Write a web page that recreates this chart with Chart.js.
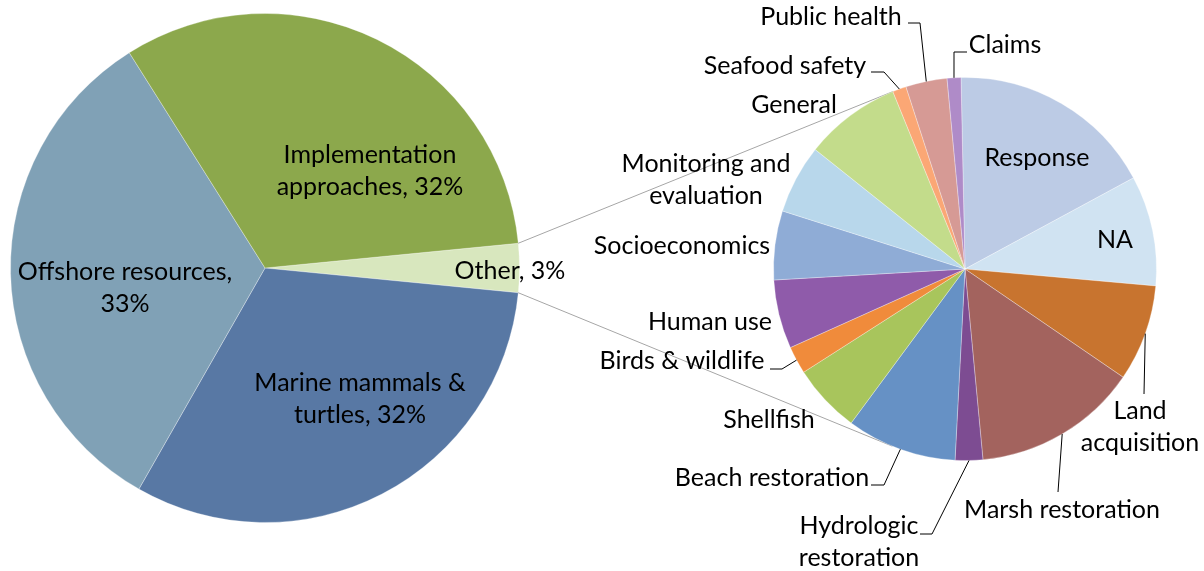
<!DOCTYPE html>
<html>
<head>
<meta charset="utf-8">
<script src="https://cdn.jsdelivr.net/npm/chart.js@4.4.1/dist/chart.umd.min.js"></script>
<style>
  html, body { margin: 0; padding: 0; background: #fff; }
  #wrap { position: relative; width: 1204px; height: 571px; overflow: hidden; }
  #wrap canvas { position: absolute; left: 0; top: 0; }
</style>
</head>
<body>
<div id="wrap">
  <canvas id="mainPie" width="1204" height="571"></canvas>
  <canvas id="otherPie" width="1204" height="571"></canvas>
</div>
<script>
// main pie (percent of all items) - "Other" first so it sits on the right side
const mainLabels = ["Other", "Marine mammals & turtles", "Offshore resources", "Implementation approaches"];
const mainValues = [3.1, 31.7, 32.8, 32.4];
const mainColors = ["#D8E7BE", "#5878A4", "#80A1B6", "#8CA84C"];

// breakdown of "Other" (item counts), clockwise from the top
const otherLabels = [
  "Response", "NA", "Land acquisition", "Marsh restoration", "Hydrologic restoration",
  "Beach restoration", "Shellfish", "Birds & wildlife", "Human use", "Socioeconomics",
  "Monitoring and evaluation", "General", "Seafood safety", "Public health", "Claims"
];
const otherValues = [15, 8, 7, 12, 2, 8, 5, 2, 5, 5, 5, 7, 1, 3, 1];
const otherColors = [
  "#BCCBE5", "#D0E3F2", "#C8742F", "#A3635E", "#7D4C92",
  "#6691C5", "#A8C55C", "#F08B3B", "#8F5BAA", "#8FACD6",
  "#B8D7EB", "#C3DC8B", "#FBA775", "#D69A95", "#AF8BC8"
];

const FONT_SIZE = 25;
const FONT = FONT_SIZE + "px Lato, 'Open Sans', sans-serif";
const LINE_H = 32;

// where each label text block goes (centre) and how wide it may get before wrapping
const mainLabelPos = [
  { x: 510, y: 271, w: 300 },
  { x: 360, y: 399, w: 230 },
  { x: 125, y: 288, w: 230 },
  { x: 370, y: 171, w: 190 }
];
const otherLabelPos = [
  { x: 1037, y: 158, w: 300 },
  { x: 1115, y: 240, w: 300 },
  { x: 1140, y: 427, w: 120, knee: [1144, 394] },
  { x: 1062, y: 510, w: 300, knee: [1058, 492] },
  { x: 859, y: 542, w: 130, knee: [932, 534], end: [920, 534] },
  { x: 772, y: 478, w: 300, knee: [884, 485], end: [871, 485] },
  { x: 769, y: 420, w: 300 },
  { x: 682, y: 361, w: 300, knee: [782, 369], end: [770, 369] },
  { x: 710, y: 322, w: 300 },
  { x: 682, y: 246, w: 300 },
  { x: 706, y: 180, w: 180 },
  { x: 794, y: 105, w: 300 },
  { x: 785, y: 66, w: 300, knee: [884, 72], end: [871, 72] },
  { x: 831, y: 17, w: 300, knee: [920, 23], end: [908, 23] },
  { x: 1005, y: 45, w: 300, knee: [954, 52], end: [967, 52] }
];

function wrapText(ctx, text, maxW) {
  const words = text.split(" ");
  const lines = [];
  let cur = "";
  words.forEach(w => {
    const test = cur ? cur + " " + w : w;
    if (cur && ctx.measureText(test).width > maxW) {
      lines.push(cur);
      cur = w;
    } else {
      cur = test;
    }
  });
  if (cur) lines.push(cur);
  return lines;
}

// draws slice labels, plus leader lines where a knee is given
const sliceLabels = {
  id: "sliceLabels",
  afterDatasetsDraw(chart, args, opts) {
    const ctx = chart.ctx;
    const arcs = chart.getDatasetMeta(0).data;
    ctx.save();
    ctx.font = FONT;
    ctx.fillStyle = "#000";
    ctx.textAlign = "center";
    ctx.textBaseline = "middle";
    opts.texts.forEach((txt, i) => {
      const p = opts.pos[i];
      const lines = wrapText(ctx, txt, p.w);
      const y0 = p.y - (lines.length - 1) * LINE_H / 2;
      lines.forEach((ln, k) => ctx.fillText(ln, p.x, y0 + k * LINE_H));

      if (p.knee) {
        const a = arcs[i];
        const mid = (a.startAngle + a.endAngle) / 2;
        ctx.beginPath();
        ctx.strokeStyle = "#000";
        ctx.lineWidth = 1;
        ctx.moveTo(a.x + Math.cos(mid) * a.outerRadius, a.y + Math.sin(mid) * a.outerRadius);
        ctx.lineTo(p.knee[0], p.knee[1]);
        if (p.end) ctx.lineTo(p.end[0], p.end[1]);
        ctx.stroke();
      }
    });
    ctx.restore();
  }
};

const pct = v => Math.round(v / mainValues.reduce((s, x) => s + x, 0) * 100);
const otherSweep = mainValues[0] / mainValues.reduce((s, x) => s + x, 0) * 360;

const mainChart = new Chart(document.getElementById("mainPie"), {
  type: "pie",
  data: {
    labels: mainLabels,
    datasets: [{
      data: mainValues,
      backgroundColor: mainColors,
      borderColor: "rgba(255,255,255,0.3)",
      borderWidth: 1,
      hoverOffset: 0
    }]
  },
  options: {
    responsive: false,
    animation: false,
    rotation: 90 - otherSweep / 2,
    layout: { padding: { left: 10, right: 684, top: 13, bottom: 48 } },
    plugins: {
      legend: { display: false },
      tooltip: { enabled: false },
      sliceLabels: { texts: mainLabels.map((l, i) => l + ", " + pct(mainValues[i]) + "%"), pos: mainLabelPos }
    }
  },
  plugins: [sliceLabels]
});

// grey lines from the "Other" slice corners, tangent to the second pie
const connectors = {
  id: "connectors",
  beforeDatasetsDraw(chart) {
    const src = mainChart.getDatasetMeta(0).data[0];
    const dst = chart.getDatasetMeta(0).data[0];
    const r = dst.outerRadius;
    const ctx = chart.ctx;
    ctx.save();
    ctx.strokeStyle = "#A6A6A6";
    ctx.lineWidth = 1;
    [src.startAngle, src.endAngle].forEach((ang, k) => {
      const px = src.x + Math.cos(ang) * src.outerRadius;
      const py = src.y + Math.sin(ang) * src.outerRadius;
      const d = Math.hypot(px - dst.x, py - dst.y);
      const th = Math.atan2(py - dst.y, px - dst.x);
      const al = Math.acos(r / d);
      const cands = [th + al, th - al].map(t => [dst.x + Math.cos(t) * r, dst.y + Math.sin(t) * r]);
      const pt = k === 0 ? (cands[0][1] < cands[1][1] ? cands[0] : cands[1])
                         : (cands[0][1] > cands[1][1] ? cands[0] : cands[1]);
      ctx.beginPath();
      ctx.moveTo(px, py);
      ctx.lineTo(pt[0], pt[1]);
      ctx.stroke();
    });
    ctx.restore();
  }
};

const otherChart = new Chart(document.getElementById("otherPie"), {
  type: "pie",
  data: {
    labels: otherLabels,
    datasets: [{
      data: otherValues,
      backgroundColor: otherColors,
      borderColor: "rgba(255,255,255,0.3)",
      borderWidth: 1,
      hoverOffset: 0
    }]
  },
  options: {
    responsive: false,
    animation: false,
    rotation: -1.2,
    layout: { padding: { left: 773, right: 47, top: 77, bottom: 110 } },
    plugins: {
      legend: { display: false },
      tooltip: { enabled: false },
      sliceLabels: { texts: otherLabels, pos: otherLabelPos }
    }
  },
  plugins: [connectors, sliceLabels]
});
</script>
</body>
</html>
